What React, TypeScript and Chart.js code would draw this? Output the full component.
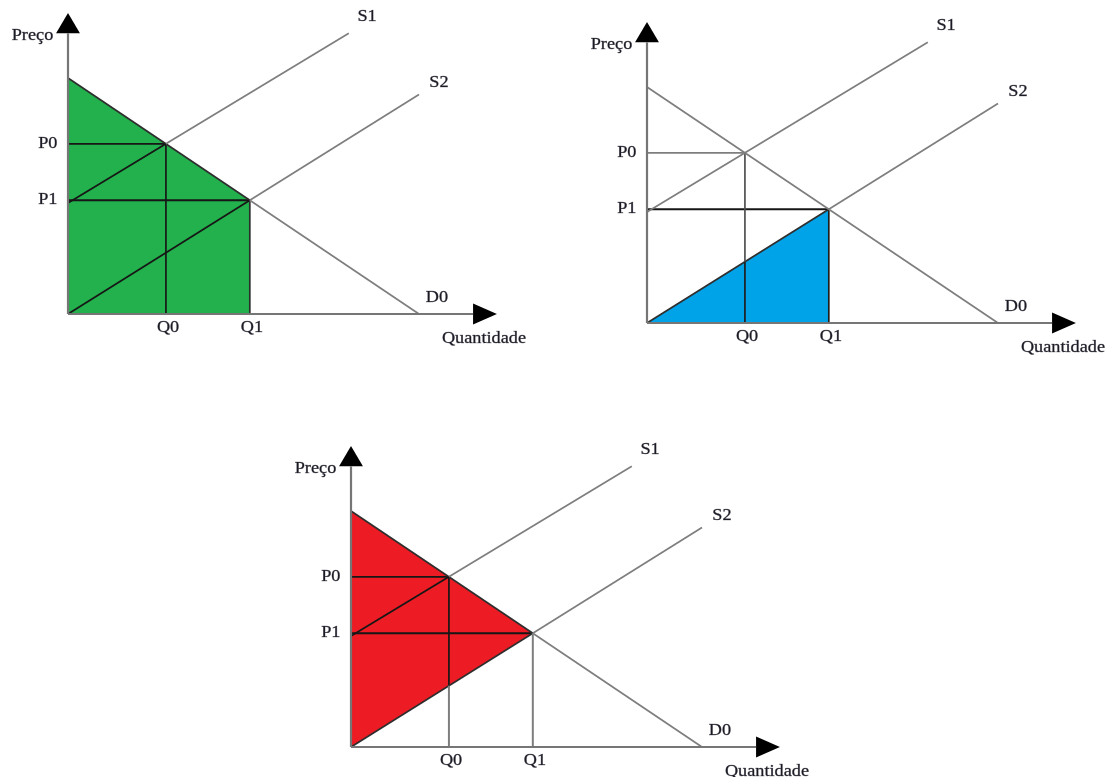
import React, { useEffect, useRef } from 'react';
import { Chart, registerables } from 'chart.js';

Chart.register(...registerables);

type Pt = { x: number; y: number };

// ---- data (in abstract price/quantity units) ----
const demandD0: Pt[] = [{ x: 0, y: 10 }, { x: 10, y: 0 }];
const supplyS1: Pt[] = [{ x: 0, y: 4.7 }, { x: 8, y: 11.9 }];
const supplyS2: Pt[] = [{ x: 0, y: 0 }, { x: 10, y: 9.3 }];
const equilibriumQ = [2.79, 5.18]; // Q0, Q1
const equilibriumP = [7.21, 4.82]; // P0, P1
const quantityTicks = ['Q0', 'Q1'];
const priceTicks = ['P0', 'P1'];
const curveNames = ['S1', 'S2', 'D0'];
const axisTitles = ['Preço', 'Quantidade'];
const axisLength = { x: 11.54, y: 11.9 };
const arrowTip = { x: 12.22, y: 12.75 };

// ---- styles / layout ----
const GRAY = '#7e7e7e';
const AXIS = '#767676';
const DARK = '#161616';
const GREEN = '#22b14c';
const BLUE = '#00a2e8';
const RED = '#ed1c24';
const UX = 35.1; // px per quantity unit
const UY = 23.6; // px per price unit
const W = 540;
const H = 356;
const OFF_L = 66;
const OFF_T = 314;
const ARROW_HALF_X = 0.34;
const ARROW_HALF_Y = 0.445;
const FONT = '16px "Liberation Serif", "Times New Roman", serif';
const TEXT_STRETCH = 1.14;

type Kind = 'green' | 'blue' | 'red';

function yOn(line: Pt[], x: number) {
  const [a, b] = line;
  return a.y + ((x - a.x) * (b.y - a.y)) / (b.x - a.x);
}

function seg(a: Pt, b: Pt, color: string, width = 1.7) {
  return {
    data: [a, b],
    showLine: true,
    borderColor: color,
    borderWidth: width,
    pointRadius: 0,
    pointHoverRadius: 0,
    fill: false,
    order: 0,
  };
}

function poly(pts: Pt[], color: string, order = 5) {
  return {
    data: pts,
    showLine: true,
    borderColor: 'rgba(0,0,0,0)',
    borderWidth: 1,
    backgroundColor: color,
    pointRadius: 0,
    pointHoverRadius: 0,
    fill: 'shape',
    order,
  };
}

function buildDatasets(kind: Kind) {
  const [Q0, Q1] = equilibriumQ;
  const [P0, P1] = equilibriumP;
  const e0 = { x: Q0, y: P0 };
  const e1 = { x: Q1, y: P1 };
  const ds: any[] = [];

  // axes
  ds.push(seg({ x: 0, y: 0 }, { x: axisLength.x, y: 0 }, AXIS, 2.2));
  ds.push(seg({ x: 0, y: 0 }, { x: 0, y: axisLength.y }, AXIS, 2.2));
  ds.push(
    poly(
      [
        { x: -ARROW_HALF_X, y: axisLength.y },
        { x: 0, y: arrowTip.y },
        { x: ARROW_HALF_X, y: axisLength.y },
      ],
      '#000',
      1
    )
  );
  ds.push(
    poly(
      [
        { x: axisLength.x, y: ARROW_HALF_Y },
        { x: arrowTip.x, y: 0 },
        { x: axisLength.x, y: -ARROW_HALF_Y },
      ],
      '#000',
      1
    )
  );

  const s2AtQ0 = yOn(supplyS2, Q0);

  if (kind === 'green') {
    ds.push(poly([demandD0[0], e1, { x: Q1, y: 0 }, { x: 0, y: 0 }], GREEN));
    ds.push(seg(e0, supplyS1[1], GRAY));
    ds.push(seg(e1, supplyS2[1], GRAY));
    ds.push(seg(e1, demandD0[1], GRAY));
    ds.push(seg(supplyS1[0], e0, DARK));
    ds.push(seg(supplyS2[0], e1, DARK));
    ds.push(seg(demandD0[0], e1, '#2e2e2e'));
    ds.push(seg({ x: 0, y: P0 }, e0, DARK));
    ds.push(seg({ x: 0, y: P1 }, e1, DARK, 2));
    ds.push(seg({ x: Q0, y: 0 }, e0, DARK));
    ds.push(seg({ x: Q1, y: 0 }, e1, '#2e2e2e'));
  } else if (kind === 'blue') {
    ds.push(poly([{ x: 0, y: 0 }, e1, { x: Q1, y: 0 }], BLUE));
    ds.push(seg(supplyS1[0], supplyS1[1], GRAY));
    ds.push(seg(demandD0[0], demandD0[1], GRAY));
    ds.push(seg(e1, supplyS2[1], GRAY));
    ds.push(seg({ x: 0, y: P0 }, e0, GRAY));
    ds.push(seg({ x: Q0, y: s2AtQ0 }, e0, '#505050'));
    ds.push(seg({ x: Q0, y: 0 }, { x: Q0, y: s2AtQ0 }, '#1e1e1e'));
    ds.push(seg(supplyS2[0], e1, '#2e2e2e'));
    ds.push(seg({ x: 0, y: P1 }, e1, DARK, 1.8));
    ds.push(seg({ x: Q1, y: 0 }, e1, '#1e1e1e'));
  } else {
    ds.push(poly([demandD0[0], e1, { x: 0, y: 0 }], RED));
    ds.push(seg(e0, supplyS1[1], GRAY));
    ds.push(seg(e1, supplyS2[1], GRAY));
    ds.push(seg(e1, demandD0[1], GRAY));
    ds.push(seg({ x: Q0, y: 0 }, { x: Q0, y: s2AtQ0 }, GRAY, 2));
    ds.push(seg({ x: Q1, y: 0 }, e1, GRAY, 2));
    ds.push(seg(supplyS1[0], e0, DARK));
    ds.push(seg(supplyS2[0], e1, '#2e2e2e'));
    ds.push(seg(demandD0[0], e1, '#2e2e2e'));
    ds.push(seg({ x: 0, y: P0 }, e0, DARK));
    ds.push(seg({ x: 0, y: P1 }, e1, DARK, 1.8));
    ds.push(seg({ x: Q0, y: s2AtQ0 }, e0, DARK));
  }
  return ds;
}

type Label = { text: string; x: number; y: number; align: CanvasTextAlign };

function buildLabels(): Label[] {
  const [Q0, Q1] = equilibriumQ;
  const [P0, P1] = equilibriumP;
  return [
    { text: axisTitles[0], x: -0.42, y: 11.78, align: 'right' },
    { text: axisTitles[1], x: 11.85, y: -1.07, align: 'center' },
    { text: priceTicks[0], x: -0.3, y: P0, align: 'right' },
    { text: priceTicks[1], x: -0.3, y: P1, align: 'right' },
    { text: quantityTicks[0], x: Q0 + 0.06, y: -0.6, align: 'center' },
    { text: quantityTicks[1], x: Q1 + 0.06, y: -0.6, align: 'center' },
    { text: curveNames[0], x: supplyS1[1].x + 0.52, y: supplyS1[1].y + 0.68, align: 'center' },
    { text: curveNames[1], x: supplyS2[1].x + 0.57, y: supplyS2[1].y + 0.49, align: 'center' },
    { text: curveNames[2], x: demandD0[1].x + 0.51, y: demandD0[1].y + 0.68, align: 'center' },
  ];
}

const labelPlugin = {
  id: 'diagramLabels',
  afterDatasetsDraw(chart: any) {
    const { ctx, scales } = chart;
    const labels: Label[] = buildLabels();
    ctx.save();
    ctx.font = FONT;
    ctx.fillStyle = '#1c1c26';
    ctx.strokeStyle = 'rgba(28,28,38,0.55)';
    ctx.lineWidth = 0.5;
    ctx.textBaseline = 'middle';
    for (const l of labels) {
      const px = scales.x.getPixelForValue(l.x);
      const py = scales.y.getPixelForValue(l.y);
      ctx.save();
      ctx.translate(px, py);
      ctx.scale(TEXT_STRETCH, 1);
      ctx.textAlign = l.align;
      ctx.fillText(l.text, 0, 0);
      ctx.strokeText(l.text, 0, 0);
      ctx.restore();
    }
    ctx.restore();
  },
};

function Diagram({ kind, ox, oy }: { kind: Kind; ox: number; oy: number }) {
  const ref = useRef<HTMLCanvasElement>(null);
  useEffect(() => {
    if (!ref.current) return;
    const chart = new Chart(ref.current, {
      type: 'scatter',
      data: { datasets: buildDatasets(kind) as any },
      options: {
        responsive: false,
        animation: false,
        events: [],
        layout: { padding: 0 },
        plugins: { legend: { display: false }, tooltip: { enabled: false } },
        scales: {
          x: { type: 'linear', display: false, min: -OFF_L / UX, max: (W - OFF_L) / UX },
          y: { type: 'linear', display: false, min: -(H - OFF_T) / UY, max: OFF_T / UY },
        },
      } as any,
      plugins: [labelPlugin],
    });
    return () => chart.destroy();
  }, [kind]);
  return (
    <canvas
      ref={ref}
      width={W}
      height={H}
      style={{ position: 'absolute', left: ox - OFF_L, top: oy - OFF_T, width: W, height: H }}
    />
  );
}

export default function App() {
  return (
    <div
      style={{
        position: 'absolute',
        left: 0,
        top: 0,
        width: 1110,
        height: 777,
        overflow: 'hidden',
        background: '#fff',
      }}
    >
      <Diagram kind="green" ox={68} oy={314} />
      <Diagram kind="blue" ox={647} oy={323} />
      <Diagram kind="red" ox={351} oy={747} />
    </div>
  );
}
